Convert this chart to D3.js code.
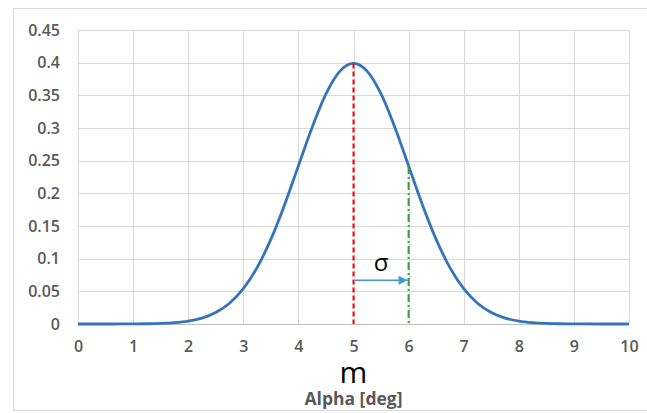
<!DOCTYPE html>
<html>
<head>
<meta charset="utf-8">
<script src="https://cdn.jsdelivr.net/npm/d3@7"></script>
<style>
  body { margin: 0; background: #fff; }
  svg text { font-family: "Open Sans", "Liberation Sans", sans-serif; }
</style>
</head>
<body>
<svg id="chart" width="647" height="413"></svg>
<script>
// angle values (deg) and density
var alphaValues = [0, 0.25, 0.5, 0.75, 1, 1.25, 1.5, 1.75, 2, 2.25, 2.5, 2.75, 3, 3.25, 3.5, 3.75, 4, 4.25, 4.5, 4.75,
  5, 5.25, 5.5, 5.75, 6, 6.25, 6.5, 6.75, 7, 7.25, 7.5, 7.75, 8, 8.25, 8.5, 8.75, 9, 9.25, 9.5, 9.75, 10];
var densityValues = [0.0000015, 0.000005, 0.000016, 0.0000477, 0.000134, 0.000353, 0.000873, 0.00203, 0.00443, 0.00909,
  0.0175, 0.0317, 0.054, 0.0863, 0.1295, 0.1826, 0.242, 0.3011, 0.3521, 0.3867,
  0.3989, 0.3867, 0.3521, 0.3011, 0.242, 0.1826, 0.1295, 0.0863, 0.054, 0.0317,
  0.0175, 0.00909, 0.00443, 0.00203, 0.000873, 0.000353, 0.000134, 0.0000477, 0.000016, 0.000005, 0.0000015];
var xTicks = [0, 1, 2, 3, 4, 5, 6, 7, 8, 9, 10];
var yTicks = [0, 0.05, 0.1, 0.15, 0.2, 0.25, 0.3, 0.35, 0.4, 0.45];
var meanValue = 5;
var sigmaValue = 1;
var meanPeak = 0.3989;
var sigmaHeight = 0.242;
var arrowLevel = 0.067;

var svg = d3.select("#chart");
var margin = { left: 78, right: 18, top: 30, bottom: 89 };
var width = 647 - margin.left - margin.right;
var height = 413 - margin.top - margin.bottom;

// outer chart frame
svg.append("rect")
  .attr("x", 13.5).attr("y", 8.5)
  .attr("width", 640).attr("height", 402)
  .attr("fill", "none").attr("stroke", "#d9d9d9");

var g = svg.append("g").attr("transform", "translate(" + margin.left + "," + margin.top + ")");

var x = d3.scaleLinear().domain([0, 10]).range([0, width]);
var y = d3.scaleLinear().domain([0, 0.45]).range([height, 0]);

// grid
g.append("g").selectAll("line").data(yTicks).enter().append("line")
  .attr("x1", 0).attr("x2", width)
  .attr("y1", function(d) { return Math.round(y(d)) + 0.5; })
  .attr("y2", function(d) { return Math.round(y(d)) + 0.5; })
  .attr("stroke", function(d) { return d === 0 ? "#bfbfbf" : "#d9d9d9"; });
g.append("g").selectAll("line").data(xTicks).enter().append("line")
  .attr("y1", 0).attr("y2", height)
  .attr("x1", function(d) { return Math.round(x(d)) + 0.5; })
  .attr("x2", function(d) { return Math.round(x(d)) + 0.5; })
  .attr("stroke", "#d9d9d9");

// axes labels
var yAxis = g.append("g").call(d3.axisLeft(y).tickValues(yTicks).tickSize(0).tickPadding(18)
  .tickFormat(function(d) { return String(+d.toFixed(2)); }));
yAxis.select(".domain").remove();
yAxis.selectAll("text").attr("font-size", 16).attr("font-weight", 600).attr("fill", "#595959")
  .style("font-family", "'Open Sans', sans-serif");

var xAxis = g.append("g").attr("transform", "translate(0," + height + ")")
  .call(d3.axisBottom(x).tickValues(xTicks).tickSize(0).tickPadding(17));
xAxis.select(".domain").remove();
xAxis.selectAll("text").attr("font-size", 16).attr("font-weight", 600).attr("fill", "#595959")
  .style("font-family", "'Open Sans', sans-serif");

// curve
var line = d3.line()
  .x(function(d, i) { return x(alphaValues[i]); })
  .y(function(d) { return y(d); })
  .curve(d3.curveMonotoneX);
g.append("path").datum(densityValues)
  .attr("d", line)
  .attr("fill", "none")
  .attr("stroke", "#3574bb")
  .attr("stroke-width", 2.8);

// mean line
g.append("line")
  .attr("x1", x(meanValue)).attr("x2", x(meanValue))
  .attr("y1", y(meanPeak)).attr("y2", y(0))
  .attr("stroke", "#ff0000").attr("stroke-width", 2)
  .attr("stroke-dasharray", "5,3");

// sigma line
g.append("line")
  .attr("x1", x(meanValue + sigmaValue)).attr("x2", x(meanValue + sigmaValue))
  .attr("y1", y(sigmaHeight)).attr("y2", y(0))
  .attr("stroke", "#3e9a3e").attr("stroke-width", 2)
  .attr("stroke-dasharray", "8,3,2,3");

// sigma arrow
svg.append("defs").append("marker")
  .attr("id", "arrow").attr("viewBox", "0 0 10 10")
  .attr("refX", 10).attr("refY", 5)
  .attr("markerWidth", 11).attr("markerHeight", 9)
  .attr("markerUnits", "userSpaceOnUse")
  .attr("orient", "auto")
  .append("path").attr("d", "M0,0 L10,5 L0,10 z").attr("fill", "#3d9bd0");
g.append("line")
  .attr("x1", x(meanValue) + 1).attr("x2", x(meanValue + sigmaValue) - 1)
  .attr("y1", y(arrowLevel)).attr("y2", y(arrowLevel))
  .attr("stroke", "#3d9bd0").attr("stroke-width", 1.5)
  .attr("marker-end", "url(#arrow)");

g.append("text")
  .attr("x", x(meanValue + sigmaValue / 2)).attr("y", y(arrowLevel) - 9)
  .attr("text-anchor", "middle")
  .attr("font-size", 24).attr("fill", "#000")
  .text("σ");

// m label and axis title
svg.append("text")
  .attr("x", margin.left + x(meanValue)).attr("y", 383)
  .attr("text-anchor", "middle")
  .attr("font-size", 30).attr("fill", "#000")
  .text("m");
svg.append("text")
  .attr("x", margin.left + x(meanValue)).attr("y", 405)
  .attr("text-anchor", "middle")
  .attr("font-size", 17.5).attr("font-weight", "bold").attr("fill", "#595959")
  .text("Alpha [deg]");
</script>
</body>
</html>
